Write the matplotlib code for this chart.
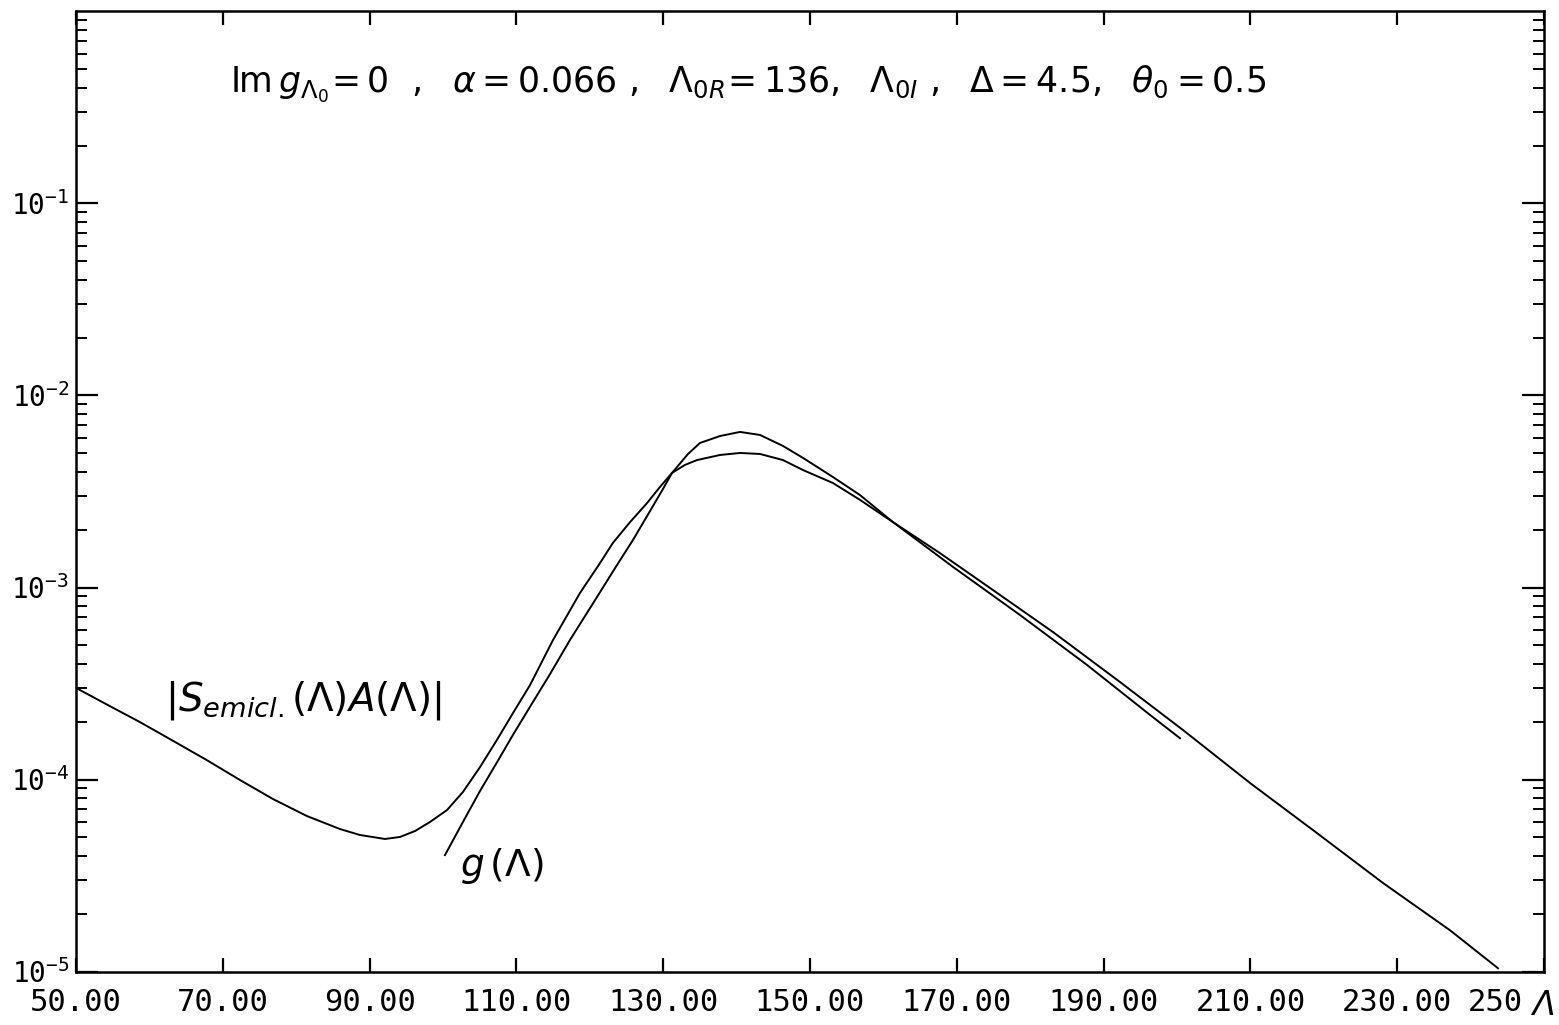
import matplotlib
matplotlib.use("Agg")
import matplotlib.pyplot as plt
from matplotlib.ticker import FixedLocator, LogLocator, NullFormatter
import matplotlib.transforms as mtransforms

# ---- data ----
S_x = [50.0, 54.36, 58.72, 63.22, 67.85, 72.34, 76.84, 81.47, 85.97, 88.69,
       92.10, 94.14, 96.19, 98.23, 100.54, 102.72, 105.04, 107.36, 109.54,
       111.85, 114.99, 118.66, 121.39, 123.16, 125.48, 127.79, 129.56, 131.20,
       132.97, 134.60, 137.74, 140.46, 143.19, 146.32, 149.05, 153.13, 156.81,
       161.31, 167.71, 174.11, 183.11, 192.23, 200.82, 209.95, 219.07, 228.07,
       237.19, 243.73]
S_y = [3.00e-4, 2.44e-4, 1.99e-4, 1.59e-4, 1.26e-4, 9.94e-5, 7.91e-5, 6.45e-5,
       5.52e-5, 5.14e-5, 4.90e-5, 5.02e-5, 5.39e-5, 6.01e-5, 6.93e-5, 8.61e-5,
       1.16e-4, 1.61e-4, 2.22e-4, 3.10e-4, 5.33e-4, 9.36e-4, 1.34e-3, 1.71e-3,
       2.19e-3, 2.75e-3, 3.34e-3, 3.95e-3, 4.35e-3, 4.61e-3, 4.90e-3, 5.02e-3,
       4.96e-3, 4.61e-3, 4.09e-3, 3.50e-3, 2.86e-3, 2.19e-3, 1.51e-3, 1.02e-3,
       5.86e-4, 3.22e-4, 1.81e-4, 9.59e-5, 5.26e-5, 2.89e-5, 1.64e-5, 1.04e-5]

g_x = [100.27, 102.72, 105.04, 107.36, 109.54, 111.85, 114.58, 117.30, 120.98,
       123.43, 125.89, 128.20, 129.97, 131.20, 131.88, 133.38, 135.01, 137.74,
       140.46, 143.19, 146.32, 149.05, 153.13, 156.81, 161.31, 169.48, 178.61,
       187.74, 196.32, 200.41]
g_y = [4.04e-5, 6.01e-5, 8.71e-5, 1.23e-4, 1.71e-4, 2.39e-4, 3.54e-4, 5.33e-4,
       8.92e-4, 1.26e-3, 1.77e-3, 2.50e-3, 3.26e-3, 3.95e-3, 4.24e-3, 4.96e-3,
       5.66e-3, 6.15e-3, 6.46e-3, 6.23e-3, 5.46e-3, 4.73e-3, 3.76e-3, 3.03e-3,
       2.19e-3, 1.28e-3, 7.19e-4, 3.95e-4, 2.17e-4, 1.64e-4]

x_ticks = [50, 70, 90, 110, 130, 150, 170, 190, 210, 230, 250]
x_ticklabels = ["50.00", "70.00", "90.00", "110.00", "130.00", "150.00",
                "170.00", "190.00", "210.00", "230.00", "250"]
y_ticks = [1e-5, 1e-4, 1e-3, 1e-2, 1e-1]
y_ticklabels = [r"$\mathregular{10^{-5}}$", r"$\mathregular{10^{-4}}$",
                r"$\mathregular{10^{-3}}$", r"$\mathregular{10^{-2}}$",
                r"$\mathregular{10^{-1}}$"]

title_text = (r"$\mathrm{Im}\,g_{\Lambda_0}\!=0\ \ ,\ \ \alpha = 0.066\ ,\ \ "
              r"\Lambda_{0R}\!=136,\ \ \Lambda_{0I}\ ,\ \ \Delta = 4.5,\ \ "
              r"\theta_0 = 0.5$")
S_label = r"$|S_{emicl.}(\Lambda)A(\Lambda)|$"
g_label = r"$g\,(\Lambda)$"

# ---- figure ----
W, H = 1559, 1025
fig = plt.figure(figsize=(W / 100, H / 100), dpi=100)
left, right, bottom, top = 76, 1544, 971.5, 11.5
ax = fig.add_axes([left / W, 1 - bottom / H, (right - left) / W, (bottom - top) / H])

ax.plot(S_x, S_y, color="black", lw=1.4, solid_joinstyle="round")
ax.plot(g_x, g_y, color="black", lw=1.4, solid_joinstyle="round")

ax.set_yscale("log")
ax.set_xlim(50, 250)
ax.set_ylim(1e-5, 1e0)

for sp in ax.spines.values():
    sp.set_linewidth(1.8)

ax.xaxis.set_major_locator(FixedLocator(x_ticks))
ax.set_xticklabels(x_ticklabels, family="DejaVu Sans Mono")
ax.yaxis.set_major_locator(FixedLocator(y_ticks))
ax.set_yticklabels(y_ticklabels, family="DejaVu Sans Mono")
ax.yaxis.set_minor_locator(LogLocator(base=10, subs=range(2, 10)))
ax.yaxis.set_minor_formatter(NullFormatter())

ax.tick_params(axis="x", which="major", direction="in", length=10, width=1.6,
               top=True, bottom=True, labelsize=22, pad=12)
ax.tick_params(axis="y", which="major", direction="in", length=16, width=1.6,
               left=True, right=True, labelsize=20, pad=5)
ax.tick_params(axis="y", which="minor", direction="in", length=8, width=1.4,
               left=True, right=True)

# shift the truncated last x label to the left like in the reference
last = ax.get_xticklabels()[-1]
last.set_horizontalalignment("right")
last.set_transform(last.get_transform() +
                   mtransforms.ScaledTranslation(-0.21, 0, fig.dpi_scale_trans))

# annotations
fig.text(230 / W, 1 - 92 / H, title_text, fontsize=25, ha="left", va="baseline")
ax.annotate(S_label, xy=(165 / W, 1 - 710 / H), xycoords="figure fraction",
            fontsize=28, ha="left", va="baseline")
ax.annotate(g_label, xy=(460 / W, 1 - 876 / H), xycoords="figure fraction",
            fontsize=27, ha="left", va="baseline")
fig.text(1555 / W, 1 - 1015 / H, "Λ", fontsize=24, style="italic",
         ha="right", va="baseline")

fig.savefig("out.png", dpi=100)
